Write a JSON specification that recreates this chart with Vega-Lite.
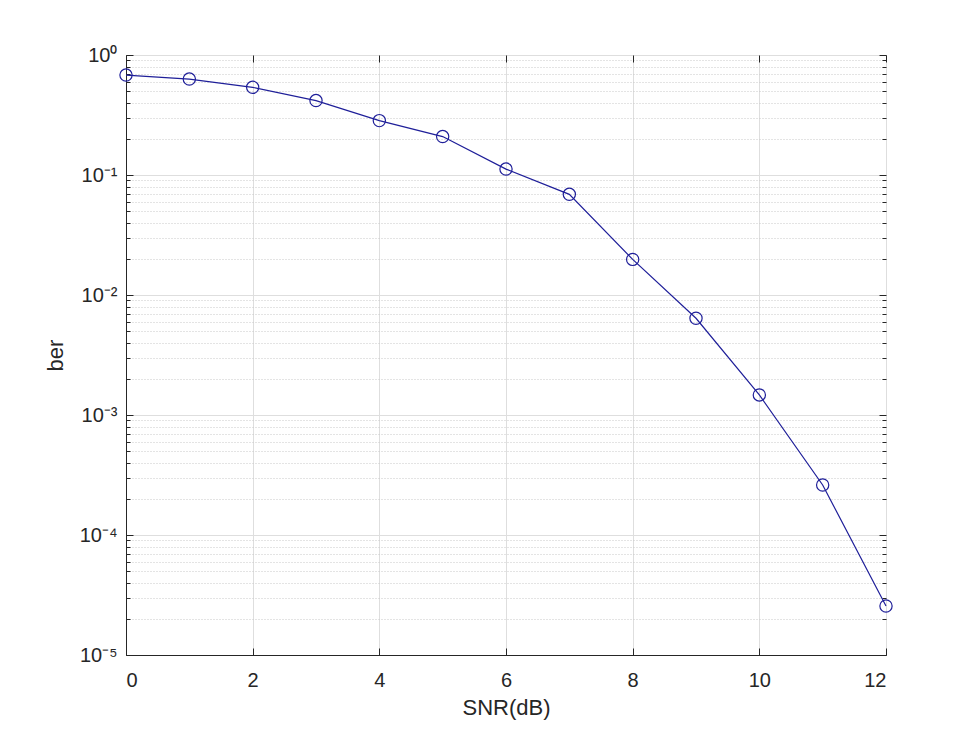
{
  "$schema": "https://vega.github.io/schema/vega-lite/v6.json",
  "autosize": {"type": "none"},
  "padding": {"left": 126, "top": 55, "right": 94, "bottom": 80},
  "width": 760,
  "height": 600,
  "background": "white",
  "config": {
    "view": {"stroke": "#262626", "strokeWidth": 1},
    "font": "Liberation Sans",
    "axis": {"labelFont": "Liberation Sans", "titleFont": "Liberation Sans"}
  },
  "data": {
    "values": [
      {"snr": 0, "ber": 0.68},
      {"snr": 1, "ber": 0.63},
      {"snr": 2, "ber": 0.538},
      {"snr": 3, "ber": 0.417},
      {"snr": 4, "ber": 0.284},
      {"snr": 5, "ber": 0.209},
      {"snr": 6, "ber": 0.112},
      {"snr": 7, "ber": 0.069},
      {"snr": 8, "ber": 0.0198},
      {"snr": 9, "ber": 0.0064},
      {"snr": 10, "ber": 0.00147},
      {"snr": 11, "ber": 0.000261},
      {"snr": 12, "ber": 0.0000256}
    ]
  },
  "layer": [
    {
      "mark": {"type": "point", "opacity": 0},
      "encoding": {
        "x": {"field": "snr", "type": "quantitative", "axis": null},
        "y": {
          "field": "ber", "type": "quantitative",
          "axis": {
            "orient": "left",
            "values": [0.00002,0.00003,0.00004,0.00005,0.00006,0.00007,0.00008,0.00009,0.0002,0.0003,0.0004,0.0005,0.0006,0.0007,0.0008,0.0009,0.002,0.003,0.004,0.005,0.006,0.007,0.008,0.009,0.02,0.03,0.04,0.05,0.06,0.07,0.08,0.09,0.2,0.3,0.4,0.5,0.6,0.7,0.8,0.9],
            "labels": false, "domain": false, "title": null,
            "grid": true, "gridDash": [1, 2], "gridColor": "#c8c8c8", "gridWidth": 1,
            "ticks": true, "tickSize": -4, "tickColor": "#262626"
          }
        }
      }
    },
    {
      "mark": {"type": "point", "opacity": 0},
      "encoding": {
        "x": {"field": "snr", "type": "quantitative", "axis": {"orient": "top", "values": [0,2,4,6,8,10,12], "labels": false, "domain": false, "grid": false, "title": null, "tickSize": -7, "tickColor": "#262626"}},
        "y": {
          "field": "ber", "type": "quantitative",
          "axis": {
            "orient": "right",
            "values": [0.00002,0.00003,0.00004,0.00005,0.00006,0.00007,0.00008,0.00009,0.0002,0.0003,0.0004,0.0005,0.0006,0.0007,0.0008,0.0009,0.002,0.003,0.004,0.005,0.006,0.007,0.008,0.009,0.02,0.03,0.04,0.05,0.06,0.07,0.08,0.09,0.2,0.3,0.4,0.5,0.6,0.7,0.8,0.9],
            "labels": false, "domain": false, "title": null, "grid": false,
            "ticks": true, "tickSize": -4, "tickColor": "#262626"
          }
        }
      }
    },
    {
      "mark": {"type": "point", "opacity": 0},
      "encoding": {
        "x": {"field": "snr", "type": "quantitative", "axis": null},
        "y": {
          "field": "ber", "type": "quantitative",
          "axis": {
            "orient": "right",
            "values": [0.00001, 0.0001, 0.001, 0.01, 0.1, 1],
            "labels": false, "domain": false, "title": null, "grid": false,
            "ticks": true, "tickSize": -7, "tickColor": "#262626"
          }
        }
      }
    },
    {
      "mark": {"type": "line", "color": "#1f1f99", "strokeWidth": 1.2},
      "encoding": {
        "x": {
          "field": "snr", "type": "quantitative",
          "scale": {"domain": [0, 12], "nice": false},
          "axis": {
            "orient": "bottom",
            "title": "SNR(dB)",
            "values": [0, 2, 4, 6, 8, 10, 12],
            "grid": true, "gridColor": "#dedede", "gridWidth": 1,
            "tickSize": -7, "tickColor": "#262626",
            "domainColor": "#262626",
            "labelFontSize": 20, "labelColor": "#262626", "labelPadding": 22,
            "titleFontSize": 22, "titleFontWeight": "normal", "titleColor": "#262626", "titlePadding": 7
          }
        },
        "y": {
          "field": "ber", "type": "quantitative",
          "scale": {"type": "log", "domain": [0.00001, 1], "nice": false},
          "axis": {
            "orient": "left",
            "title": "ber",
            "values": [0.00001, 0.0001, 0.001, 0.01, 0.1, 1],
            "labelExpr": "'10' + ['⁰','⁻¹','⁻²','⁻³','⁻⁴','⁻⁵'][-round(log(datum.value)/LN10)]",
            "grid": true, "gridColor": "#dedede", "gridWidth": 1,
            "tickSize": -7, "tickColor": "#262626",
            "domainColor": "#262626",
            "labelFontSize": 20, "labelColor": "#262626", "labelPadding": 16,
            "titleFontSize": 22, "titleFontWeight": "normal", "titleColor": "#262626", "titlePadding": 12
          }
        }
      }
    },
    {
      "mark": {"type": "point", "shape": "circle", "filled": false, "color": "#1f1f99", "size": 150, "strokeWidth": 1.2, "opacity": 1},
      "encoding": {
        "x": {"field": "snr", "type": "quantitative", "axis": null},
        "y": {"field": "ber", "type": "quantitative", "axis": null}
      }
    }
  ],
  "resolve": {"axis": {"x": "independent", "y": "independent"}}
}
